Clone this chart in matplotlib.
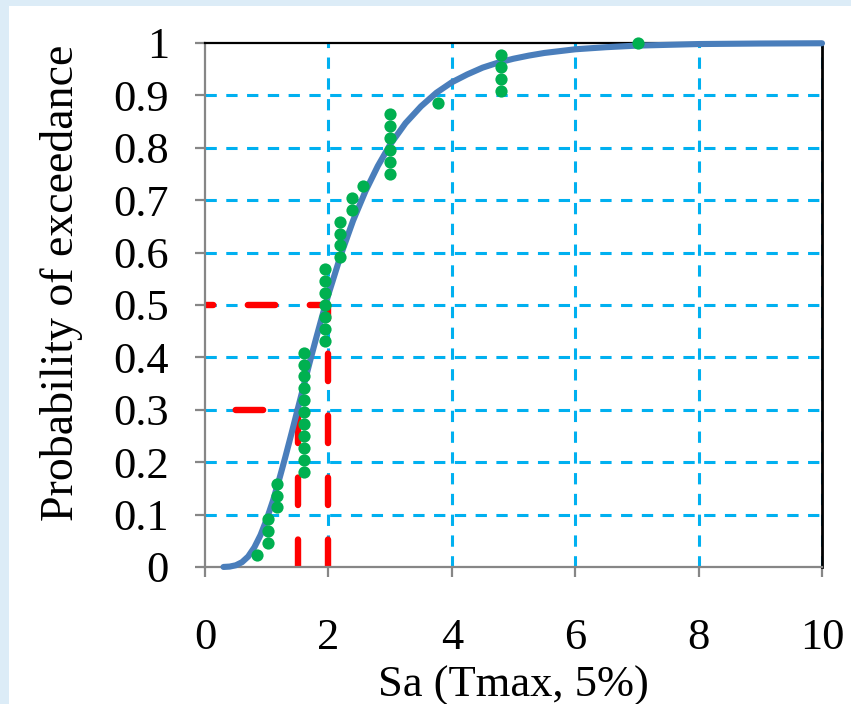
import matplotlib
matplotlib.use("Agg")
import matplotlib.pyplot as plt

# ---- data ----
# fitted curve (probability of exceedance vs Sa)
curve_x = [0.3, 0.4, 0.5, 0.6, 0.7, 0.8, 0.9, 1.0, 1.1, 1.2, 1.3, 1.4, 1.5, 1.6, 1.7,
           1.8, 1.9, 2.0, 2.2, 2.4, 2.6, 2.8, 3.0, 3.25, 3.5, 3.75, 4.0, 4.25, 4.5,
           4.75, 5.0, 5.25, 5.5, 6.0, 6.5, 7.0, 7.5, 8.0, 9.0, 10.0]
curve_y = [0.0001, 0.0008, 0.0033, 0.0092, 0.020, 0.0375, 0.061, 0.091, 0.126, 0.166,
           0.209, 0.254, 0.300, 0.346, 0.392, 0.436, 0.479, 0.520, 0.595, 0.661, 0.717,
           0.765, 0.806, 0.847, 0.879, 0.905, 0.925, 0.940, 0.953, 0.9625, 0.970,
           0.976, 0.981, 0.988, 0.992, 0.995, 0.9965, 0.998, 0.999, 0.9995]

# observed points
obs_x = ([0.84] + [1.02] * 3 + [1.17] * 3 + [1.60] * 11 + [1.95] * 7 + [2.18] * 4 +
         [2.38] * 2 + [2.56] + [3.0] * 6 + [3.77] + [4.79] * 4 + [7.01])
obs_y = [0.023,
         0.045, 0.068, 0.091,
         0.114, 0.136, 0.159,
         0.182, 0.205, 0.227, 0.250, 0.273, 0.295, 0.318, 0.341, 0.364, 0.386, 0.409,
         0.432, 0.455, 0.477, 0.500, 0.523, 0.545, 0.568,
         0.591, 0.614, 0.636, 0.659,
         0.682, 0.705,
         0.727,
         0.750, 0.773, 0.795, 0.818, 0.841, 0.864,
         0.886,
         0.909, 0.932, 0.955, 0.977,
         1.0]

# reference (red dashed) lines
ref_h_y = [0.5, 0.3]
ref_h_x_end = [2.0, 1.5]
ref_v_x = [2.0, 1.5]
ref_v_y_end = [0.5, 0.3]

xticks = [0, 2, 4, 6, 8, 10]
yticks = [0, 0.1, 0.2, 0.3, 0.4, 0.5, 0.6, 0.7, 0.8, 0.9, 1]
ytick_labels = ["0", "0.1", "0.2", "0.3", "0.4", "0.5", "0.6", "0.7", "0.8", "0.9", "1"]
xlabel = "Sa (Tmax, 5%)"
ylabel = "Probability of exceedance"

# ---- figure ----
plt.rcParams['font.family'] = ['Liberation Serif', 'DejaVu Serif']
fig = plt.figure(figsize=(8.51, 7.04), dpi=100, facecolor='#dcecf7')
# white chart area
fig.patches.append(plt.Rectangle((9 / 851, 0), 1, 1 - 6 / 704, transform=fig.transFigure,
                                 facecolor='white', edgecolor='none', zorder=-10))
ax = fig.add_axes([205 / 851, 1 - 567 / 704, 617 / 851, 524 / 704])
ax.set_facecolor('white')
ax.set_xlim(0, 10)
ax.set_ylim(0, 1)

grid_c = '#00b0f0'
grid_ls = (0, (3.7, 3.1))
for gx in [2, 4, 6, 8, 10]:
    ax.plot([gx, gx], [0, 1], color=grid_c, lw=2.2, linestyle=grid_ls, zorder=1)
for gy in yticks[1:-1]:
    ax.plot([0, 10], [gy, gy], color=grid_c, lw=2.2, linestyle=grid_ls, zorder=1)

red_lw = 4.6
on, off = 4.3, 5.4
h_offsets = [3.0, 4.9]
for yy, xe, offs in zip(ref_h_y, ref_h_x_end, h_offsets):
    ax.plot([0, xe], [yy, yy], color='#ff0000', lw=red_lw, linestyle=(offs, (on, off)),
            dash_capstyle='round', zorder=2)
for xx, ye in zip(ref_v_x, ref_v_y_end):
    ax.plot([xx, xx], [0, ye], color='#ff0000', lw=red_lw, linestyle=(0, (on, off)),
            dash_capstyle='round', zorder=2)

ax.plot(curve_x, curve_y, color='#4a7ebb', lw=4.4, solid_capstyle='round',
        solid_joinstyle='round', zorder=3, clip_on=False)
ax.plot(obs_x, obs_y, 'o', color='#00b050', markersize=8.8, markeredgewidth=0,
        zorder=4, clip_on=False)

for s in ['left', 'bottom']:
    ax.spines[s].set_color('#868686')
    ax.spines[s].set_linewidth(1.6)
for s in ['top', 'right']:
    ax.spines[s].set_color('black')
    ax.spines[s].set_linewidth(1.6)
ax.spines['right'].set_linewidth(2.0)

ax.set_xticks(xticks)
ax.set_xticklabels([str(t) for t in xticks])
ax.set_yticks(yticks)
ax.set_yticklabels(ytick_labels)
ax.tick_params(axis='both', which='both', direction='out', length=7, width=1.6,
               color='#868686', labelsize=32)
ax.tick_params(axis='x', pad=30)
ax.tick_params(axis='y', pad=19)
ax.tick_params(top=False, right=False)

ax.set_xlabel(xlabel, fontsize=32, labelpad=5)
ax.set_ylabel(ylabel, fontsize=33)
ax.yaxis.label.set_va('center')
ax.yaxis.set_label_coords(-0.232, 0.542)

fig.savefig('out.png', dpi=100, facecolor=fig.get_facecolor())
